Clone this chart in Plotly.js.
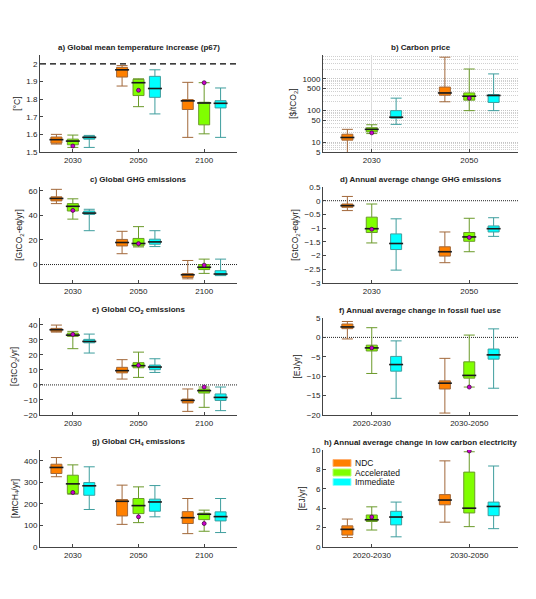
<!DOCTYPE html>
<html>
<head>
<meta charset="utf-8">
<script src="https://cdn.plot.ly/plotly-3.0.1.min.js"></script>
<style>html,body{margin:0;padding:0;background:#fff;}#chart{width:536px;height:599px;}</style>
</head>
<body>
<div id="chart"></div>
<script>
// ---------- DATA ----------
// each entry: [lowerWhisker, q1, median, q3, upperWhisker]
const scenarios = ['NDC', 'Accelerated', 'Immediate'];
const years = ['2030', '2050', '2100'];
const periods = ['2020-2030', '2030-2050'];

// a) Global mean temperature increase (p67) [°C]
const tempNDC = [[1.545, 1.55, 1.57, 1.585, 1.60], [1.874, 1.925, 1.966, 1.98, 1.99], [1.583, 1.741, 1.79, 1.797, 1.895]];
const tempACC = [[1.526, 1.541, 1.562, 1.573, 1.596], [1.757, 1.82, 1.893, 1.912, 1.915], [1.603, 1.654, 1.778, 1.782, 1.893]];
const tempIMM = [[1.526, 1.573, 1.583, 1.59, 1.594], [1.716, 1.81, 1.86, 1.929, 1.966], [1.583, 1.75, 1.776, 1.791, 1.863]];
const tempDots = [1.534, 1.85, 1.893];

// b) Carbon price [$/tCO2]
const priceNDC = [[3, 11.8, 14.3, 18.1, 25.8], [190, 305, 360, 552, 4800]];
const priceACC = [[19, 21.4, 25.8, 29, 36], [100, 214, 284, 360, 2040]];
const priceIMM = [[37, 58, 62, 100, 247], [100, 181, 300, 320, 1430]];
const priceDots = [20, 246];

// c) Global GHG emissions [GtCO2-eq/yr]
const ghgNDC = [[49.5, 51.7, 53.7, 55, 61.1], [8.8, 15.1, 17.9, 20.4, 27], [-11.6, -10.5, -8.3, -7.4, 3.3]];
const ghgACC = [[36.9, 43.5, 47.3, 49.5, 53.4], [14.3, 15.1, 17.1, 21.2, 30.8], [-7.2, -4.1, -2.2, 0, 4.4]];
const ghgIMM = [[27.5, 40.7, 41.8, 43.5, 44.9], [14.6, 16.5, 18.4, 20.6, 27.5], [-9, -8.8, -7.7, -5, 4.4]];
const ghgDots = [44, 17, -0.5];

// d) Annual average change GHG emissions [GtCO2-eq/yr]
const dghgNDC = [[-0.36, -0.24, -0.18, -0.12, 0.156], [-2.26, -2.02, -1.86, -1.68, -1.14]];
const dghgACC = [[-1.54, -1.16, -1.02, -0.6, -0.12], [-1.86, -1.48, -1.32, -1.16, -0.64]];
const dghgIMM = [[-2.53, -1.78, -1.56, -1.21, -0.66], [-1.30, -1.14, -1.02, -0.92, -0.62]];
const dghgDots = [-1.04, -1.34];

// e) Global CO2 emissions [GtCO2/yr]
const co2NDC = [[35.1, 35.6, 36.7, 37.6, 39.8], [3.9, 8, 9.5, 11.7, 16.8], [-17.6, -12, -10.3, -9.4, -2.7]];
const co2ACC = [[24.1, 32.3, 33.1, 34.5, 35.6], [5, 11.4, 12.8, 14.8, 21.8], [-14.9, -5.4, -3.8, -2.7, -1.4]];
const co2IMM = [[21.2, 28, 28.9, 30.3, 33.8], [8.3, 10.1, 11.9, 13.2, 17.4], [-17.1, -10.3, -8.3, -6, -1.4]];
const co2Dots = [33.6, 13, -1.4];

// f) Annual average change in fossil fuel use [EJ/yr]
const fossNDC = [[-0.4, 2.25, 2.7, 3.45, 4.1], [-19.5, -13.3, -11.8, -11.2, -5.4]];
const fossACC = [[-9.3, -3.5, -2.7, -2.0, 2.5], [-12.8, -10.5, -9.8, -6.3, 0.6]];
const fossIMM = [[-15.7, -8.7, -7.0, -4.9, -0.9], [-13.1, -5.6, -4.5, -3.0, 2.2]];
const fossDots = [-2.7, -12.8];

// g) Global CH4 emissions [MtCH4/yr]
const ch4NDC = [[326, 341, 369, 384, 415], [105, 144, 212, 220, 287], [62, 109, 136, 164, 225]];
const ch4ACC = [[245, 248, 293, 333, 381], [113, 155, 192, 225, 279], [73, 127, 152, 157, 171]];
const ch4IMM = [[174, 240, 284, 299, 372], [140, 166, 209, 222, 285], [67, 121, 141, 163, 225]];
const ch4Dots = [253, 140, 109];

// h) Annual average change in low carbon electricity [EJ/yr]
const lceNDC = [[0.98, 1.23, 1.82, 2.18, 2.88], [2.56, 4.35, 4.84, 5.4, 8.88]];
const lceACC = [[1.75, 2.63, 2.81, 3.3, 4.14], [2.1, 3.51, 4.0, 7.72, 9.82]];
const lceIMM = [[1.05, 2.28, 3.09, 3.68, 4.63], [1.89, 3.23, 4.18, 4.63, 8.35]];
const lceDots = [3.09, 9.9];

// ---------- STYLE ----------
const fills = ['#FF8000', '#80FF00', '#00FFFF'];
const edges = ['#A2683A', '#6B9A2A', '#3E9E9E'];
const swatchEdges = ['#FFB070', '#B8FF70', '#8CFFFF'];
const offsets = [-0.25, 0, 0.25];
const FONT = 'Liberation Sans, Arial, sans-serif';
const W = 536, H = 599;

const colL = [40 / W, 237 / W];
const colR = [323 / W, 518 / W];
function rowDom(t, b) { return [1 - b / H, 1 - t / H]; }
const rows = [rowDom(55, 152), rowDom(187, 283), rowDom(318, 415), rowDom(450, 547)];

const traces = [];
const layout = {
  width: W, height: H, autosize: false,
  margin: {l: 0, r: 0, t: 0, b: 0},
  paper_bgcolor: '#fff', plot_bgcolor: '#fff',
  font: {family: FONT, size: 8, color: '#222'},
  showlegend: false,
  annotations: [], shapes: []
};

function panel(n, col, row, cats, series, dots, title, ytitle, yopts) {
  const xa = n === 1 ? 'x' : 'x' + n;
  const ya = n === 1 ? 'y' : 'y' + n;
  const xkey = n === 1 ? 'xaxis' : 'xaxis' + n;
  const ykey = n === 1 ? 'yaxis' : 'yaxis' + n;
  const pxPerUnit = ((col[1] - col[0]) * W) / cats.length;
  const boxPx = 11;
  const bw = boxPx / pxPerUnit;
  series.forEach((arr, s) => {
    const xs = cats.map((c, i) => i + 1 + offsets[s]);
    traces.push({
      type: 'box', xaxis: xa, yaxis: ya, x: xs,
      lowerfence: arr.map(d => d[0]), q1: arr.map(d => d[1]), median: arr.map(d => d[2]),
      q3: arr.map(d => d[3]), upperfence: arr.map(d => d[4]),
      fillcolor: fills[s], line: {color: edges[s], width: 1},
      width: bw, whiskerwidth: 1, boxpoints: false, hoverinfo: 'skip',
      name: scenarios[s], showlegend: false
    });
    traces.push({
      type: 'scatter', mode: 'markers', xaxis: xa, yaxis: ya, x: xs, y: arr.map(d => d[2]),
      marker: {symbol: 'line-ew', size: boxPx - 1, color: '#1a1a1a', line: {color: '#1a1a1a', width: 1.6}},
      showlegend: false, hoverinfo: 'skip'
    });
  });
  traces.push({
    type: 'scatter', mode: 'markers', xaxis: xa, yaxis: ya,
    x: cats.map((c, i) => i + 1 + offsets[1]), y: dots,
    marker: {symbol: 'circle', size: 4, color: '#CC00CC', line: {color: '#3a003a', width: 0.7}},
    showlegend: false, hoverinfo: 'skip'
  });
  layout[xkey] = {
    domain: col, anchor: ya, range: [0.5, cats.length + 0.5],
    tickmode: 'array', tickvals: cats.map((c, i) => i + 1), ticktext: cats,
    showline: true, linecolor: '#444', linewidth: 1, ticks: 'inside', ticklen: 3, tickcolor: '#444',
    showgrid: false, zeroline: false, fixedrange: true,
    tickfont: {family: FONT, size: 8, color: '#222'}
  };
  layout[ykey] = Object.assign({
    domain: row, anchor: xa,
    showline: true, linecolor: '#444', linewidth: 1, ticks: 'inside', ticklen: 3, tickcolor: '#444',
    showgrid: false, zeroline: false, fixedrange: true,
    tickfont: {family: FONT, size: 8, color: '#222'},
    title: {text: ytitle, font: {family: FONT, size: 8.5, color: '#222'}, standoff: 4}
  }, yopts);
  layout.annotations.push({
    xref: xa + ' domain', yref: ya + ' domain', x: 0.5, y: 1, yanchor: 'bottom', xanchor: 'center',
    yshift: 1, showarrow: false, text: '<b>' + title + '</b>',
    font: {family: FONT, size: 8, color: '#222'}
  });
}

panel(1, colL, rows[0], years, [tempNDC, tempACC, tempIMM], tempDots,
  'a) Global mean temperature increase (p67)', '[°C]', {range: [1.5, 2.05], dtick: 0.1, tick0: 1.5});
panel(2, colR, rows[0], years.slice(0, 2), [priceNDC, priceACC, priceIMM], priceDots,
  'b) Carbon price', '[$/tCO<sub>2</sub>]', {
    type: 'log', range: [Math.log10(5), 3.75], tickmode: 'array',
    tickvals: [5, 10, 50, 100, 500, 1000], ticktext: ['5', '10', '50', '100', '500', '1000'],
    showgrid: true, gridcolor: '#c4c4c4', griddash: '1px,1px', gridwidth: 1,
    minor: {tickmode: 'array', tickvals: [6, 7, 8, 9, 20, 30, 40, 60, 70, 80, 90, 200, 300, 400, 600, 700, 800, 900, 2000, 3000, 4000, 5000],
      showgrid: true, gridcolor: '#d0d0d0', griddash: '1px,1px', gridwidth: 1, ticks: ''}
  });
layout.xaxis2.showgrid = true;
layout.xaxis2.gridcolor = '#dcdcdc';
panel(3, colL, rows[1], years, [ghgNDC, ghgACC, ghgIMM], ghgDots,
  'c) Global GHG emissions', '[GtCO<sub>2</sub>-eq/yr]', {range: [-15, 63], dtick: 20, tick0: 0});
panel(4, colR, rows[1], periods.map(p => p.split('-')[1]), [dghgNDC, dghgACC, dghgIMM], dghgDots,
  'd) Annual average change GHG emissions', '[GtCO<sub>2</sub>-eq/yr]', {range: [-3, 0.5], dtick: 0.5, tick0: 0});
panel(5, colL, rows[2], years, [co2NDC, co2ACC, co2IMM], co2Dots,
  'e) Global CO<sub>2</sub> emissions', '[GtCO<sub>2</sub>/yr]', {range: [-20, 44.5], dtick: 10, tick0: 0});
panel(6, colR, rows[2], periods, [fossNDC, fossACC, fossIMM], fossDots,
  'f) Annual average change in fossil fuel use', '[EJ/yr]', {range: [-20, 5], dtick: 5, tick0: 0});
panel(7, colL, rows[3], years, [ch4NDC, ch4ACC, ch4IMM], ch4Dots,
  'g) Global CH<sub>4</sub> emissions', '[MtCH<sub>4</sub>/yr]', {range: [0, 450], dtick: 100, tick0: 0});
panel(8, colR, rows[3], periods, [lceNDC, lceACC, lceIMM], lceDots,
  'h) Annual average change in low carbon electricity', '[EJ/yr]', {range: [0, 10], dtick: 2, tick0: 0});

// reference lines
layout.shapes.push({type: 'line', xref: 'x domain', yref: 'y', x0: 0, x1: 1, y0: 2, y1: 2,
  line: {color: '#000', width: 1.3, dash: '6px,4px'}, layer: 'below'});
[3, 4, 5, 6].forEach(n => {
  layout.shapes.push({type: 'line', xref: 'x' + n + ' domain', yref: 'y' + n, x0: 0, x1: 1, y0: 0, y1: 0,
    line: {color: '#222', width: 1, dash: '1px,1px'}, layer: 'below'});
});

// compact legend inside panel h (swatch + label)
scenarios.forEach((name, s) => {
  const cy = 463 + s * 9.5;
  layout.shapes.push({type: 'rect', xref: 'paper', yref: 'paper',
    x0: 333 / W, x1: 351 / W, y0: 1 - (cy + 3.5) / H, y1: 1 - (cy - 3.5) / H,
    fillcolor: fills[s], line: {color: swatchEdges[s], width: 1}});
  layout.annotations.push({xref: 'paper', yref: 'paper', x: 353 / W, y: 1 - cy / H,
    xanchor: 'left', yanchor: 'middle', showarrow: false, text: name,
    font: {family: FONT, size: 8.5, color: '#111'}});
});

Plotly.newPlot('chart', traces, layout, {displayModeBar: false, staticPlot: true});
</script>
</body>
</html>
